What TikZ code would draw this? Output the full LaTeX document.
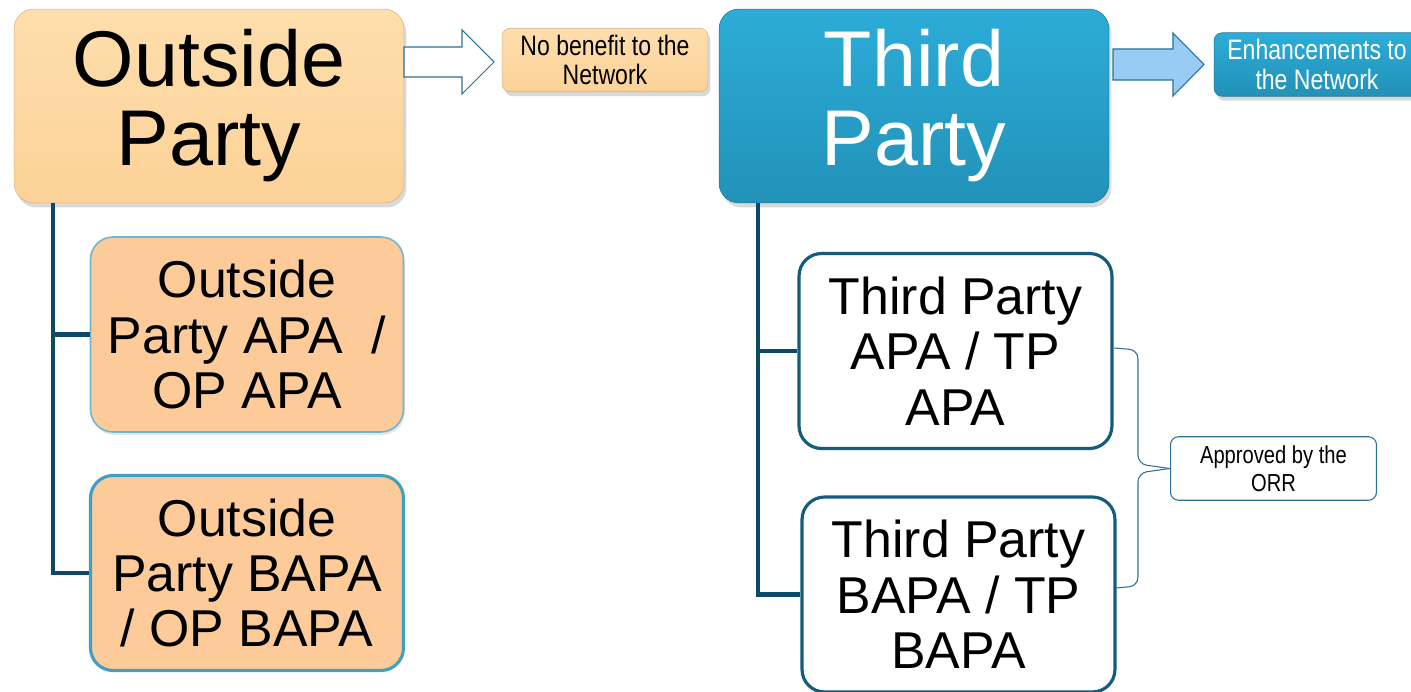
\documentclass[tikz,border=0pt]{standalone}
\usepackage{fontspec}
\setmainfont{Liberation Sans}
\newfontfamily\narrowfont[FakeStretch=0.82]{Liberation Sans}
\usetikzlibrary{shadows}
\definecolor{optop}{RGB}{254,222,172}
\definecolor{opbot}{RGB}{252,210,152}
\definecolor{subfill}{RGB}{253,203,153}
\definecolor{tptop}{RGB}{44,172,216}
\definecolor{tpbot}{RGB}{34,146,184}
\definecolor{tpedge}{RGB}{26,118,152}
\definecolor{treecol}{RGB}{12,74,106}
\definecolor{subedge}{RGB}{20,92,126}
\definecolor{lightedge}{RGB}{110,182,206}
\definecolor{midedge}{RGB}{64,160,196}
\definecolor{arrfill}{RGB}{153,204,245}
\definecolor{arredge}{RGB}{44,112,150}
\tikzstyle{softshadow}=[drop shadow={opacity=0.3,shadow xshift=0.05cm,shadow yshift=-0.09cm}]
\tikzstyle{mainbox}=[rounded corners=0.4cm,minimum width=7.8cm,minimum height=3.88cm,align=center,inner sep=0pt,font=\fontsize{45}{45}\selectfont,softshadow]
\tikzstyle{subbox}=[rounded corners=0.45cm,minimum width=6.26cm,minimum height=3.9cm,align=center,inner sep=0pt,font=\fontsize{29.5}{31.5}\selectfont]
\tikzstyle{notebox}=[rounded corners=0.16cm,minimum width=4.12cm,minimum height=1.27cm,align=center,inner sep=0pt,font=\narrowfont\fontsize{16}{17}\selectfont]
\tikzstyle{treeline}=[treecol,line width=2.3pt]

\begin{document}
\begin{tikzpicture}[x=0.02cm,y=-0.02cm]
\useasboundingbox (0,0) rectangle (1411,692);

\node[mainbox,top color=optop,bottom color=opbot,draw=opbot!85!black,line width=0.3pt] (op) at (209,106) {Outside\\Party};
\node[mainbox,top color=tptop,bottom color=tpbot,draw=tpedge,line width=0.3pt,text=white] (tp) at (914,106) {Third\\Party};
\node[notebox,top color=optop,bottom color=opbot,draw=opbot!85!black,line width=0.3pt,softshadow] (nb) at (605,60) {No benefit to the\\Network};
\node[notebox,top color=tptop,bottom color=tpbot,draw=tpedge,line width=0.3pt,text=white,softshadow] (en) at (1317,64.5) {Enhancements to\\the Network};

\node[subbox,fill=subfill,draw=lightedge,line width=0.9pt,drop shadow={opacity=0.2,shadow xshift=0.03cm,shadow yshift=-0.06cm}] (opa) at (247,334.5) {Outside\\Party APA\ \ /\\OP APA};
\node[subbox,fill=subfill,draw=midedge,line width=1.8pt] (opb) at (247,573) {Outside\\Party BAPA\\/ OP BAPA};
\node[subbox,fill=white,draw=subedge,line width=1.8pt] (tpa) at (955.5,351) {Third Party\\APA / TP\\APA};
\node[subbox,fill=white,draw=subedge,line width=1.8pt] (tpb) at (958.5,594.5) {Third Party\\BAPA / TP\\BAPA};
\node[notebox,fill=white,draw=arredge,line width=0.6pt,font=\narrowfont\fontsize{14}{16}\selectfont] (orr) at (1273.5,468.5) {Approved by the\\ORR};

\draw[arredge,fill=white,line width=0.6pt] (404,47) -- (462,47) -- (462,30) -- (494,62) -- (462,94) -- (462,77) -- (404,77) -- cycle;
\draw[arredge,fill=arrfill,line width=0.6pt] (1113,49) -- (1173,49) -- (1173,33) -- (1204,64.5) -- (1173,96) -- (1173,80) -- (1113,80) -- cycle;

\draw[treeline] ([xshift=0.78cm]op.south west) |- (opa.west);
\draw[treeline] ([xshift=0.78cm]op.south west) |- (opb.west);
\draw[treeline] ([xshift=0.78cm]tp.south west) |- (tpa.west);
\draw[treeline] ([xshift=0.78cm]tp.south west) |- (tpb.west);

\coordinate (bt) at (1114,348);
\coordinate (bb) at (1116,588);
\draw[arredge,line width=0.6pt,rounded corners=5pt] (bt) -- (1138,350) -- (1138,464) -- (orr.west);
\draw[arredge,line width=0.6pt,rounded corners=5pt] (orr.west) -- (1138,473) -- (1138,586) -- (bb);
\end{tikzpicture}
\end{document}
